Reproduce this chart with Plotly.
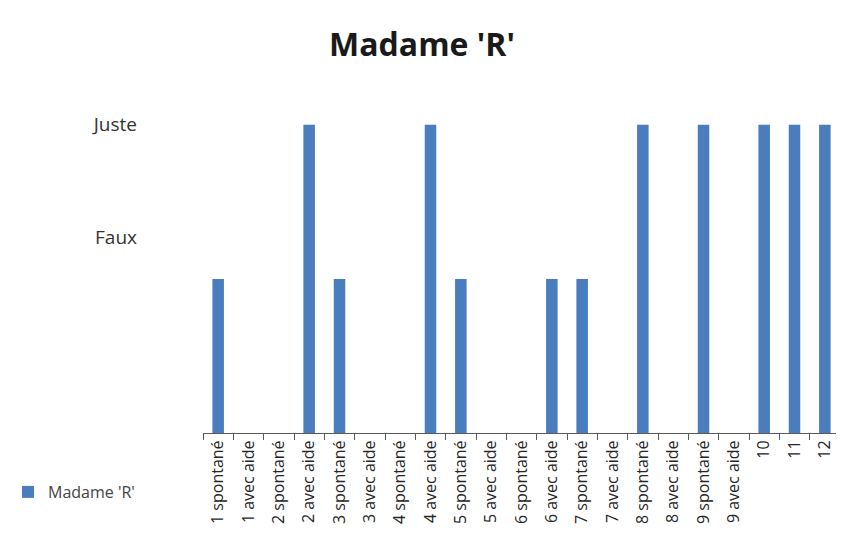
import plotly.graph_objects as go

categories = [
    "1 spontané", "1 avec aide", "2 spontané", "2 avec aide",
    "3 spontané", "3 avec aide", "4 spontané", "4 avec aide",
    "5 spontané", "5 avec aide", "6 spontané", "6 avec aide",
    "7 spontané", "7 avec aide", "8 spontané", "8 avec aide",
    "9 spontané", "9 avec aide", "10", "11", "12",
]
values = [1, 0, 0, 2, 1, 0, 0, 2, 1, 0, 0, 1, 1, 0, 2, 0, 2, 0, 2, 2, 2]
series_name = "Madame 'R'"
y_tick_vals = [2, 1.27]
y_tick_text = ["Juste", "Faux"]

W, H = 836, 551  # page body has an 8px margin

fig = go.Figure()
fig.add_trace(go.Bar(
    x=categories,
    y=values,
    name=series_name,
    marker=dict(color="#4a7dbd", line=dict(width=0)),
    width=0.38,
    showlegend=True,
))

fig.update_layout(
    width=W,
    height=H,
    paper_bgcolor="white",
    plot_bgcolor="white",
    margin=dict(l=195, r=4, t=86, b=126),
    title=dict(
        text="<b>Madame 'R'</b>",
        x=414 / W, xref="container", xanchor="center",
        y=1 - 37 / H, yref="container", yanchor="middle",
        font=dict(family="Open Sans, sans-serif", size=32, color="#1a1a1a"),
    ),
    font=dict(family="Open Sans, sans-serif", color="#333333"),
    xaxis=dict(
        type="category",
        automargin=False,
        tickangle=-90,
        tickson="boundaries",
        ticks="outside",
        ticklen=6,
        tickcolor="#5a5a5a",
        showline=True,
        linecolor="#5a5a5a",
        linewidth=1,
        showgrid=False,
        tickfont=dict(size=16, color="#262626"),
    ),
    yaxis=dict(
        automargin=False,
        range=[0, 2.2],
        tickvals=y_tick_vals,
        ticktext=y_tick_text,
        showgrid=False,
        zeroline=False,
        showline=False,
        ticks="",
        ticklabelstandoff=65,
        tickfont=dict(size=19, color="#333333"),
    ),
    legend=dict(
        x=0, xref="container", xanchor="left",
        y=1 - 484 / H, yref="container", yanchor="middle",
        font=dict(size=16, color="#444444"),
        itemwidth=30,
    ),
    bargap=0.6,
)

fig.write_html("out.html")
